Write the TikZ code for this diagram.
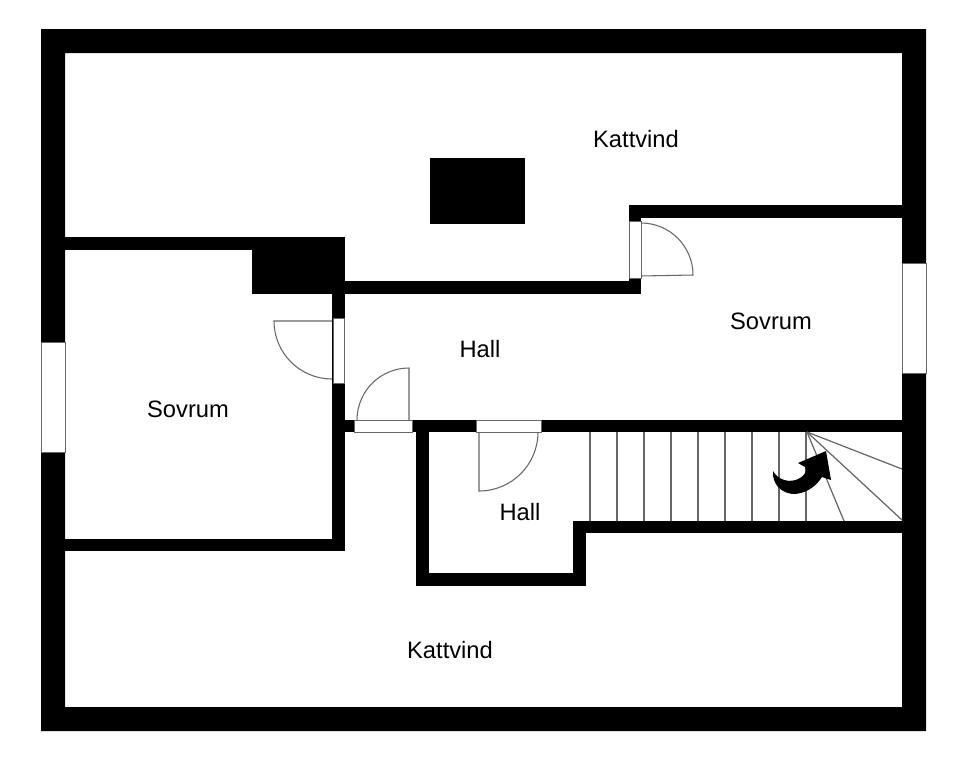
\documentclass[tikz,border=0pt]{standalone}
\usepackage{fontspec}
\setmainfont{Liberation Sans}
\definecolor{thinline}{HTML}{666666}
\tikzset{
  wall/.style={fill=black},
  opening/.style={fill=white,draw=thinline,line width=0.5pt},
  doorleaf/.style={draw=thinline,line width=0.6pt},
  tread/.style={draw=thinline,line width=0.7pt},
  room/.style={font=\fontsize{13.5}{16}\selectfont,inner sep=0pt}
}
\begin{document}
\begin{tikzpicture}[x=0.02cm,y=-0.02cm]

  \useasboundingbox (0,0) rectangle (960,758);
  \fill[white] (0,0) rectangle (960,758);

  % outer walls
  \fill[wall,even odd rule] (41,29) rectangle (926,731) (65,53) rectangle (902,707);

  % inner walls
  \fill[wall] (65,237) rectangle (345,250);
  \fill[wall] (252,237) rectangle (345,294);
  \fill[wall] (345,281) rectangle (641,294);
  \fill[wall] (332,294) rectangle (345,551);
  \fill[wall] (65,539) rectangle (345,551);
  \fill[wall] (345,420) rectangle (902,432);
  \fill[wall] (416,432) rectangle (429,586);
  \fill[wall] (416,573) rectangle (586,586);
  \fill[wall] (573,521) rectangle (586,586);
  \fill[wall] (573,521) rectangle (902,533);
  \fill[wall] (629,205) rectangle (902,218);
  \fill[wall] (629,205) rectangle (641,294);
  \fill[wall] (430,158) rectangle (525,224);

  % windows and door openings
  \draw[opening] (41,342) rectangle (65,452);
  \draw[opening] (902,263) rectangle (926,373);
  \draw[opening] (333,318) rectangle (344,383);
  \draw[opening] (629,221) rectangle (641,278);
  \draw[opening] (354,420) rectangle (412,432);
  \draw[opening] (476,420) rectangle (541,432);

  % doors
  \draw[doorleaf] (641,223) arc[start angle=-90,end angle=0,radius=52] -- (641,276);
  \draw[doorleaf] (332,321) -- (274,321) arc[start angle=180,end angle=90,radius=58];
  \draw[doorleaf] (357,420) arc[start angle=180,end angle=270,radius=52] -- (409,420);
  \draw[doorleaf] (479,432) -- (479,491) arc[start angle=90,end angle=0,radius=59];

  % stairs
  \foreach \xpos in {590,617,644,671,698,725,752,779,806}
    \draw[tread] (\xpos,432) -- (\xpos,521);
  \foreach \xpos/\ypos in {844/521,902/520,902/469}
    \draw[tread] (807,432) -- (\xpos,\ypos);

  % stair arrow
  \fill[black] (773,471) .. controls (778,480) and (790,484) .. (800,478)
    .. controls (805,475) and (807,471) .. (805,467) -- (798,463) -- (826,451)
    -- (831,480) -- (822,477) .. controls (815,488) and (804,494) .. (793,494)
    .. controls (781,493) and (772,484) .. (773,471) -- cycle;

  % labels
  \node[room] (atticTop) at (636,139) {Kattvind};
  \node[room] (atticBottom) at (450,650) {Kattvind};
  \node[room] (bedroomRight) at (771,321) {Sovrum};
  \node[room] (bedroomLeft) at (188,409) {Sovrum};
  \node[room] (hallUpper) at (480,349) {Hall};
  \node[room] (hallLower) at (520,512) {Hall};

\end{tikzpicture}
\end{document}
